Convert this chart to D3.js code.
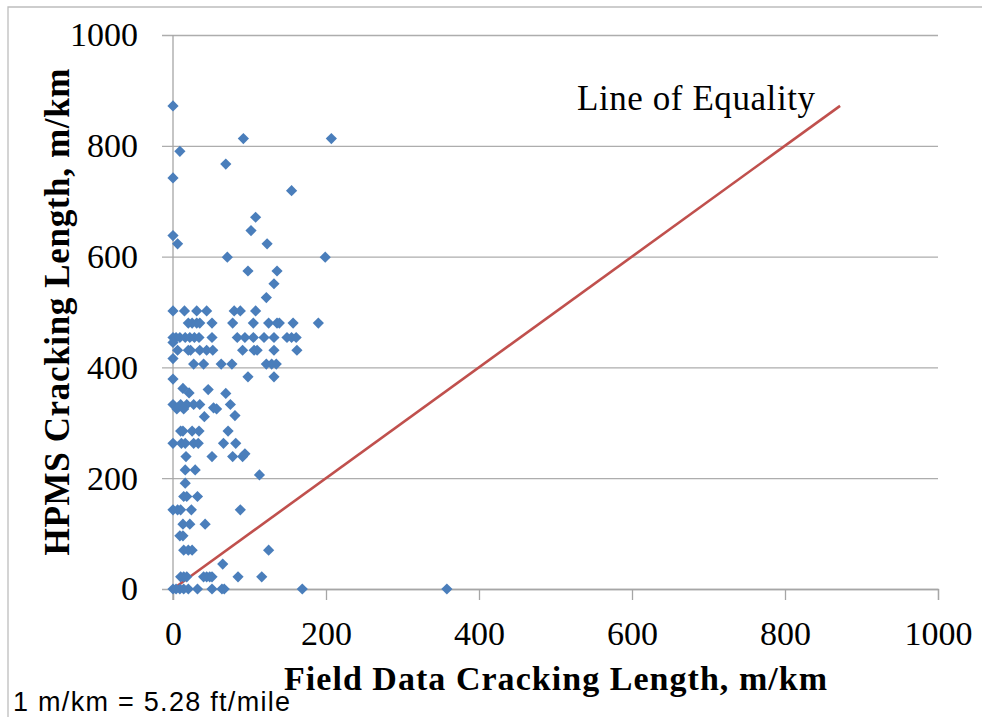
<!DOCTYPE html>
<html>
<head>
<meta charset="utf-8">
<script src="https://cdn.jsdelivr.net/npm/d3@7"></script>
<style>
  body { margin: 0; background: #fff; }
  svg { display: block; }
</style>
</head>
<body>
<svg id="chart" width="982" height="717"></svg>
<script>
// field data (x) vs HPMS (y) cracking length, m/km
var fieldLength = [
  0, 92, 207, 9, 69, 0, 155, 108, 102, 0, 6, 123, 71, 199, 98, 136, 132, 122,
  0, 15, 31, 44, 80, 88, 108,
  20, 25, 31, 35, 51, 78, 105, 125, 136, 139, 157, 190,
  0, 4, 9, 16, 22, 28, 34, 51, 84, 94, 105, 119, 132, 149, 155, 161,
  0,
  6, 20, 23, 35, 44, 52, 91, 106, 110, 132, 162,
  0,
  27, 40, 63, 77, 122, 129, 135,
  98, 132, 0,
  13, 21, 46, 69,
  0, 10, 18, 27, 35, 75, 5, 14, 53, 57,
  41, 81,
  10, 13, 25, 34, 72,
  0, 11, 16, 27, 33, 66, 82,
  17, 51, 78, 91, 94,
  16, 29, 113, 16,
  14, 18, 32,
  0, 6, 10, 24, 88,
  13, 22, 42,
  9, 13,
  14, 20, 25, 125,
  65,
  10, 14, 18, 40, 44, 48, 51, 85, 116,
  0, 4, 9, 14, 20, 32, 51, 64, 67, 169, 358
];
var hpmsLength = [
  872, 813, 813, 790, 767, 742, 719, 671, 647, 638, 623, 623, 599, 599, 574, 574, 551, 526,
  502, 502, 502, 502, 502, 502, 502,
  480, 480, 480, 480, 480, 480, 480, 480, 480, 480, 480, 480,
  454, 454, 454, 454, 454, 454, 454, 454, 454, 454, 454, 454, 454, 454, 454, 454,
  445,
  431, 431, 431, 431, 431, 431, 431, 431, 431, 431, 431,
  416,
  406, 406, 406, 406, 406, 406, 406,
  383, 383, 379,
  362, 354, 360, 353,
  333, 333, 333, 333, 333, 333, 325, 325, 327, 325,
  311, 313,
  285, 285, 285, 285, 285,
  263, 263, 263, 263, 263, 263, 263,
  239, 239, 239, 239, 244,
  215, 215, 206, 191,
  167, 167, 167,
  143, 143, 143, 143, 143,
  117, 117, 117,
  96, 96,
  70, 70, 70, 70,
  45,
  22, 22, 22, 22, 22, 22, 22, 22, 22,
  0, 0, 0, 0, 0, 0, 0, 0, 0, 0, 0
];
var equalityLine = [0, 872];
var xTicks = [0, 200, 400, 600, 800, 1000];
var yTicks = [0, 200, 400, 600, 800, 1000];

var svg = d3.select("#chart");

var x = d3.scaleLinear().domain([0, 1000]).range([173, 938]);
var y = d3.scaleLinear().domain([0, 1000]).range([589, 35]);

// outer frame
svg.append("path")
    .attr("d", "M8,720V7H990")
    .attr("fill", "none")
    .attr("stroke", "#bdbdbd")
    .attr("stroke-width", 1.3);

// horizontal gridlines + y labels (ticks run from right edge leftwards)
var yAxis = svg.append("g")
    .attr("transform", "translate(938,0)")
    .call(d3.axisLeft(y).tickValues(yTicks).tickSize(776).tickPadding(24).tickFormat(d3.format("d")));
yAxis.select(".domain").remove();
yAxis.selectAll("line").attr("stroke", "#adadad").attr("stroke-width", 1.3);
yAxis.selectAll("text")
    .attr("fill", "#000")
    .style("font-family", "'Liberation Serif', serif")
    .style("font-size", "34px");

// x axis
var xAxis = svg.append("g")
    .attr("transform", "translate(0,589)")
    .call(d3.axisBottom(x).tickValues(xTicks).tickSize(11).tickPadding(21).tickFormat(d3.format("d")));
xAxis.select(".domain").attr("stroke", "#a6a6a6").attr("stroke-width", 1.3);
xAxis.selectAll("line").attr("stroke", "#a6a6a6").attr("stroke-width", 1.3);
xAxis.selectAll("text")
    .attr("fill", "#000")
    .style("font-family", "'Liberation Serif', serif")
    .style("font-size", "34px");

// vertical axis line
svg.append("line")
    .attr("x1", x(0)).attr("x2", x(0))
    .attr("y1", y(1000)).attr("y2", y(0) + 11)
    .attr("stroke", "#a6a6a6")
    .attr("stroke-width", 1.3);

// line of equality
svg.append("line")
    .attr("x1", x(equalityLine[0])).attr("y1", y(equalityLine[0]))
    .attr("x2", x(equalityLine[1])).attr("y2", y(equalityLine[1]))
    .attr("stroke", "#c0504d")
    .attr("stroke-width", 2.6);

// points
var pts = fieldLength.map(function(d, i) { return [d, hpmsLength[i]]; });
svg.append("g")
    .attr("fill", "#4a7ebb")
  .selectAll("path")
  .data(pts)
  .join("path")
    .attr("d", function(d) {
      var cx = x(d[0]), cy = y(d[1]), r = 5.6;
      return "M" + cx + "," + (cy - r) + "L" + (cx + r) + "," + cy +
             "L" + cx + "," + (cy + r) + "L" + (cx - r) + "," + cy + "Z";
    });

svg.append("text")
    .attr("x", 577)
    .attr("y", 110)
    .attr("textLength", 238)
    .style("font-family", "'Liberation Serif', serif")
    .style("font-size", "35px")
    .text("Line of Equality");

// axis titles
svg.append("text")
    .attr("x", (x(0) + x(1000)) / 2)
    .attr("y", 690)
    .attr("text-anchor", "middle")
    .attr("textLength", 543)
    .style("font-family", "'Liberation Serif', serif")
    .style("font-weight", "bold")
    .style("font-size", "34px")
    .text("Field Data Cracking Length, m/km");

svg.append("text")
    .attr("transform", "translate(69," + ((y(0) + y(1000)) / 2) + ") rotate(-90)")
    .attr("text-anchor", "middle")
    .attr("textLength", 487)
    .style("font-family", "'Liberation Serif', serif")
    .style("font-weight", "bold")
    .style("font-size", "35px")
    .text("HPMS Cracking Length, m/km");

svg.append("text")
    .attr("x", 13)
    .attr("y", 711)
    .attr("textLength", 277)
    .style("font-family", "'Liberation Sans', Arial, sans-serif")
    .style("font-size", "27px")
    .text("1 m/km = 5.28 ft/mile");
</script>
</body>
</html>
